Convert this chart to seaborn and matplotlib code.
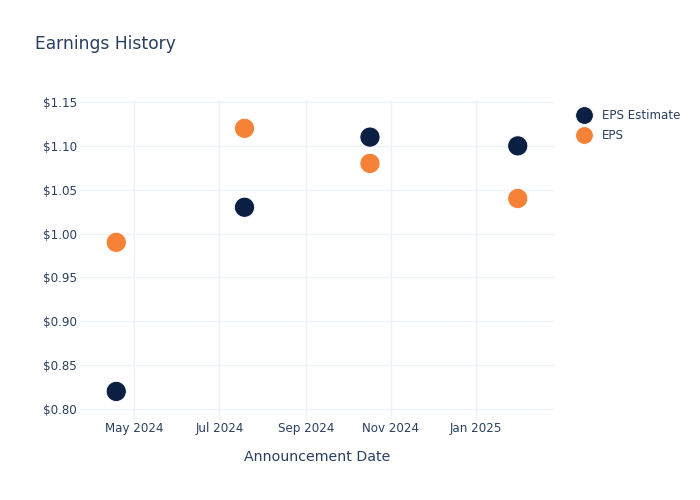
import matplotlib
matplotlib.use("Agg")
import matplotlib.pyplot as plt
import matplotlib.dates as mdates
from matplotlib.ticker import FuncFormatter, MultipleLocator
import pandas as pd
import seaborn as sns

# Data
announcement_dates = ["2024-04-18", "2024-07-19", "2024-10-17", "2025-01-31"]
eps_estimate = [0.82, 1.03, 1.11, 1.10]
eps_actual = [0.99, 1.12, 1.08, 1.04]
series_names = ["EPS Estimate", "EPS"]

TEXT = "#2a3f5f"
GRID = "#eef2f8"
palette = {"EPS Estimate": "#0b1f42", "EPS": "#f68238"}

dates = pd.to_datetime(announcement_dates)
df = pd.concat([
    pd.DataFrame({"date": dates, "value": eps_estimate, "series": series_names[0]}),
    pd.DataFrame({"date": dates, "value": eps_actual, "series": series_names[1]}),
])

sns.set_style("white")
plt.rcParams["font.family"] = ["DejaVu Sans"]

fig = plt.figure(figsize=(7, 5), dpi=100)
ax = fig.add_axes([80 / 700, 80 / 500, 474 / 700, 320 / 500])

sns.scatterplot(data=df, x="date", y="value", hue="series", hue_order=series_names,
                palette=palette, s=210, edgecolor="white", linewidth=0.6,
                ax=ax, zorder=3)

ax.set_xlim(pd.Timestamp("2024-03-23"), pd.Timestamp("2025-02-26"))
ax.set_ylim(0.7874, 1.1523)
ax.yaxis.set_major_locator(MultipleLocator(0.05))
ax.yaxis.set_major_formatter(FuncFormatter(lambda v, p: f"${v:.2f}"))
ax.xaxis.set_major_locator(mdates.MonthLocator(bymonth=[1, 3, 5, 7, 9, 11]))
ax.xaxis.set_major_formatter(mdates.DateFormatter("%b %Y"))

ax.grid(True, color=GRID, linewidth=1, zorder=0)
ax.set_axisbelow(True)
for sp in ax.spines.values():
    sp.set_visible(False)
ax.tick_params(axis="both", length=0, labelsize=8.6, colors=TEXT)
ax.tick_params(axis="y", pad=2)
ax.tick_params(axis="x", pad=1.5)

ax.set_xlabel("Announcement Date", fontsize=10.2, color=TEXT, labelpad=11)
ax.set_ylabel("")

fig.text(35 / 700, 1 - 44 / 500, "Earnings History", fontsize=12.3, color=TEXT,
         va="center", ha="left")

leg = ax.legend(loc="upper left", bbox_to_anchor=(567 / 700, 1 - 104 / 500),
                bbox_transform=fig.transFigure, frameon=False, fontsize=8.6,
                handletextpad=0.55, labelspacing=0.62, borderaxespad=0,
                markerscale=0.88)
for t in leg.get_texts():
    t.set_color(TEXT)

fig.savefig("out.png", dpi=100)
